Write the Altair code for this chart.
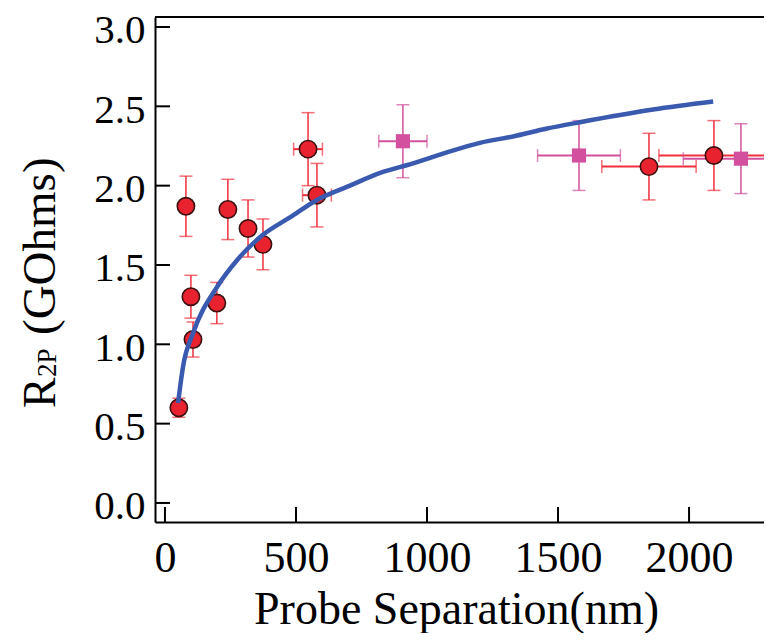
import altair as alt
import pandas as pd

# ---- data ----
red_x = [53, 80, 99, 107, 198, 240, 317, 374, 546, 580, 1847, 2095]
red_y = [0.60, 1.87, 1.30, 1.03, 1.26, 1.85, 1.73, 1.63, 2.23, 1.94, 2.12, 2.19]
red_yerr = [0.06, 0.19, 0.135, 0.11, 0.13, 0.19, 0.18, 0.16, 0.23, 0.20, 0.21, 0.22]
red_xerr = [0, 0, 0, 0, 0, 0, 0, 0, 55, 55, 180, 210]

pink_x = [908, 1580, 2198]
pink_y = [2.28, 2.19, 2.17]
pink_yerr = [0.23, 0.22, 0.22]
pink_xerr = [92, 158, 220]

curve_x = [50, 69, 107, 198, 275, 374, 477, 580, 706, 821, 947, 1076, 1202, 1328, 1458, 1584, 1863, 2092]
curve_y = [0.63, 0.86, 1.07, 1.36, 1.53, 1.69, 1.80, 1.91, 2.00, 2.08, 2.14, 2.21, 2.27, 2.31, 2.36, 2.40, 2.48, 2.53]

x_ticks = [0, 500, 1000, 1500, 2000]
y_ticks = [0.0, 0.5, 1.0, 1.5, 2.0, 2.5, 3.0]

# ---- styling ----
W, H = 609, 505
FONT = "Liberation Serif"
RED = "#e8232f"
RED_BAR = "#f0303c"
PINK = "#d2509e"
BLUE = "#3a5ab0"

xs = alt.Scale(domain=[-38, 2286], nice=False, zero=False)
ys = alt.Scale(domain=[-0.12, 3.063], nice=False, zero=False)

xaxis = alt.Axis(values=x_ticks, format="d", title=None, grid=False, ticks=False, tickSize=0,
                 labelFont=FONT, labelFontSize=44, labelColor="black", labelPadding=14,
                 domainColor="black", domainWidth=2, labelFlush=False)
yaxis = alt.Axis(values=y_ticks, format=".1f", title=None, grid=False, ticks=False, tickSize=0,
                 labelFont=FONT, labelFontSize=41, labelColor="black", labelPadding=10,
                 labelOffset=4, domainColor="black", domainWidth=2)


def make_df(xv, yv, xe, ye):
    return pd.DataFrame({
        "x": xv, "y": yv,
        "xlo": [a - b for a, b in zip(xv, xe)], "xhi": [a + b for a, b in zip(xv, xe)],
        "ylo": [a - b for a, b in zip(yv, ye)], "yhi": [a + b for a, b in zip(yv, ye)],
        "xe": xe,
    })


red = make_df(red_x, red_y, red_xerr, red_yerr)
pink = make_df(pink_x, pink_y, pink_xerr, pink_yerr)
curve = pd.DataFrame({"x": curve_x, "y": curve_y})


def X(f):
    return alt.X(f, type="quantitative", scale=xs, axis=xaxis)


def Y(f):
    return alt.Y(f, type="quantitative", scale=ys, axis=yaxis)


def errbars(df, color):
    base = alt.Chart(df)
    vbar = base.mark_rule(color=color, strokeWidth=1.5, clip=True).encode(x=X("x"), y=Y("ylo"), y2="yhi")
    vcap1 = base.mark_tick(color=color, orient="horizontal", size=13, thickness=1.5, clip=True).encode(x=X("x"), y=Y("ylo"))
    vcap2 = base.mark_tick(color=color, orient="horizontal", size=13, thickness=1.5, clip=True).encode(x=X("x"), y=Y("yhi"))
    hb = base.transform_filter("datum.xe > 0")
    hbar = hb.mark_rule(color=color, strokeWidth=2, clip=True).encode(x=X("xlo"), x2="xhi", y=Y("y"))
    hcap1 = hb.mark_tick(color=color, orient="vertical", size=13, thickness=1.5, clip=True).encode(x=X("xlo"), y=Y("y"))
    hcap2 = hb.mark_tick(color=color, orient="vertical", size=13, thickness=1.5, clip=True).encode(x=X("xhi"), y=Y("y"))
    return [vbar, vcap1, vcap2, hbar, hcap1, hcap2]


red_pts = alt.Chart(red).mark_point(shape="circle", filled=True, size=300, fill=RED, stroke="#3a1010",
                                    strokeWidth=1.6, opacity=1).encode(x=X("x"), y=Y("y"))
pink_pts = alt.Chart(pink).mark_square(size=200, color=PINK, opacity=1).encode(x=X("x"), y=Y("y"))
line = alt.Chart(curve).mark_line(color=BLUE, strokeWidth=4.5, interpolate="monotone").encode(x=X("x"), y=Y("y"))

yt = alt.Chart(pd.DataFrame({"v": y_ticks})).mark_rule(color="black", strokeWidth=2).encode(
    y=Y("v"), x=alt.value(0), x2=alt.value(15))
xt = alt.Chart(pd.DataFrame({"v": x_ticks})).mark_rule(color="black", strokeWidth=2).encode(
    x=X("v"), y=alt.value(H), y2=alt.value(H - 15))
top = alt.Chart(pd.DataFrame({"a": [0]})).mark_rule(color="black", strokeWidth=2).encode(
    x=alt.value(0), x2=alt.value(W), y=alt.value(0))

one = pd.DataFrame({"a": [0]})
xtitle = alt.Chart(one).mark_text(text="Probe Separation(nm)", font=FONT, fontSize=46, color="black",
                                  align="center", baseline="alphabetic").encode(
    x=alt.value(W / 2 - 3), y=alt.value(607))
yt_R = alt.Chart(one).mark_text(text="R", font=FONT, fontSize=46, color="black", angle=270,
                                align="left", baseline="alphabetic").encode(x=alt.value(-100), y=alt.value(391))
yt_sub = alt.Chart(one).mark_text(text="2P", font=FONT, fontSize=27, color="black", angle=270,
                                  align="left", baseline="alphabetic").encode(x=alt.value(-99), y=alt.value(360))
yt_rest = alt.Chart(one).mark_text(text="(GOhms)", font=FONT, fontSize=47, color="black", angle=270,
                                   align="left", baseline="alphabetic").encode(x=alt.value(-100), y=alt.value(318))

layers = errbars(red, RED_BAR) + errbars(pink, PINK) + [red_pts, pink_pts, line, yt, xt, top,
                                                         xtitle, yt_R, yt_sub, yt_rest]

chart = alt.layer(*layers).properties(
    width=W, height=H,
    padding={"left": 147, "top": 9, "right": 0, "bottom": 111},
    autosize=alt.AutoSizeParams(type="none"),
).configure_view(stroke=None).configure(background="white")

chart.save("out.html", embed_options={"renderer": "svg", "actions": False})
